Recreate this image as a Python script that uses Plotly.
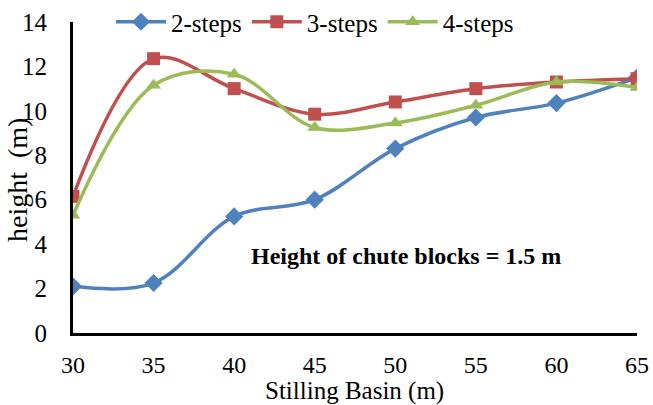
import plotly.graph_objects as go

x_vals = [30, 35, 40, 45, 50, 55, 60, 65]
steps2 = [2.1, 2.25, 5.25, 6.0, 8.3, 9.7, 10.35, 11.5]
steps3 = [6.15, 12.35, 11.0, 9.85, 10.4, 11.0, 11.3, 11.45]
steps4 = [5.3, 11.15, 11.65, 9.25, 9.45, 10.25, 11.3, 11.05]
series_names = ["2-steps", "3-steps", "4-steps"]
colors = ["#4F81BD", "#C0504D", "#9BBB59"]
symbols = ["diamond", "square", "triangle-up"]

fig = go.Figure()
for name, ys, c, s in zip(series_names, [steps2, steps3, steps4], colors, symbols):
    fig.add_trace(go.Scatter(
        x=x_vals, y=ys, name=name, mode="lines+markers",
        line=dict(color=c, width=3.5, shape="spline", smoothing=1.0),
        marker=dict(symbol=s, size=13 if s != "diamond" else 14, color=c),
    ))

font = "Liberation Serif"
L, R, T, B = 73, 16, 22, 72
pw, ph = 653 - L - R, 405 - T - B

def px_x(px):
    return (px - L) / pw

def px_y(py):
    return (405 - B - py) / ph

fig.update_layout(
    width=653, height=405,
    margin=dict(l=L, r=R, t=T, b=B, autoexpand=False),
    paper_bgcolor="white", plot_bgcolor="white",
    font=dict(family=font, size=24, color="black"),
    showlegend=True,
    legend=dict(orientation="h", x=px_x(111), y=1.0, xanchor="left", yanchor="middle",
                bgcolor="rgba(0,0,0,0)", font=dict(size=25, family=font), itemwidth=50,
                tracegroupgap=0),
    xaxis=dict(range=[30, 65], tickvals=x_vals, showgrid=False, zeroline=False,
               showline=True, linecolor="black", linewidth=3, automargin=False,
               ticks="outside", ticklen=8, tickcolor="rgba(0,0,0,0)",
               tickfont=dict(size=24, family=font)),
    yaxis=dict(range=[0, 14], tickvals=[0, 2, 4, 6, 8, 10, 12, 14], showgrid=False,
               zeroline=False, showline=True, linecolor="black", linewidth=3,
               automargin=False,
               ticks="outside", ticklen=18, tickcolor="rgba(0,0,0,0)",
               tickfont=dict(size=25, family=font)),
    annotations=[
        dict(x=0.59, y=0.2, xref="paper", yref="paper",
             text="<b>Height of chute blocks = 1.5 m</b>", showarrow=False,
             font=dict(size=24, family=font, color="black")),
        dict(x=px_x(354), y=px_y(391), xref="paper", yref="paper",
             xanchor="center", yanchor="middle", text="Stilling Basin (m)",
             showarrow=False, borderpad=0,
             font=dict(size=25, family=font, color="black")),
        dict(x=px_x(17), y=px_y(180), xref="paper", yref="paper",
             xanchor="center", yanchor="middle", text="height  (m)",
             textangle=-90, showarrow=False,
             font=dict(size=28, family=font, color="black")),
    ],
)
fig.write_html("out.html")
